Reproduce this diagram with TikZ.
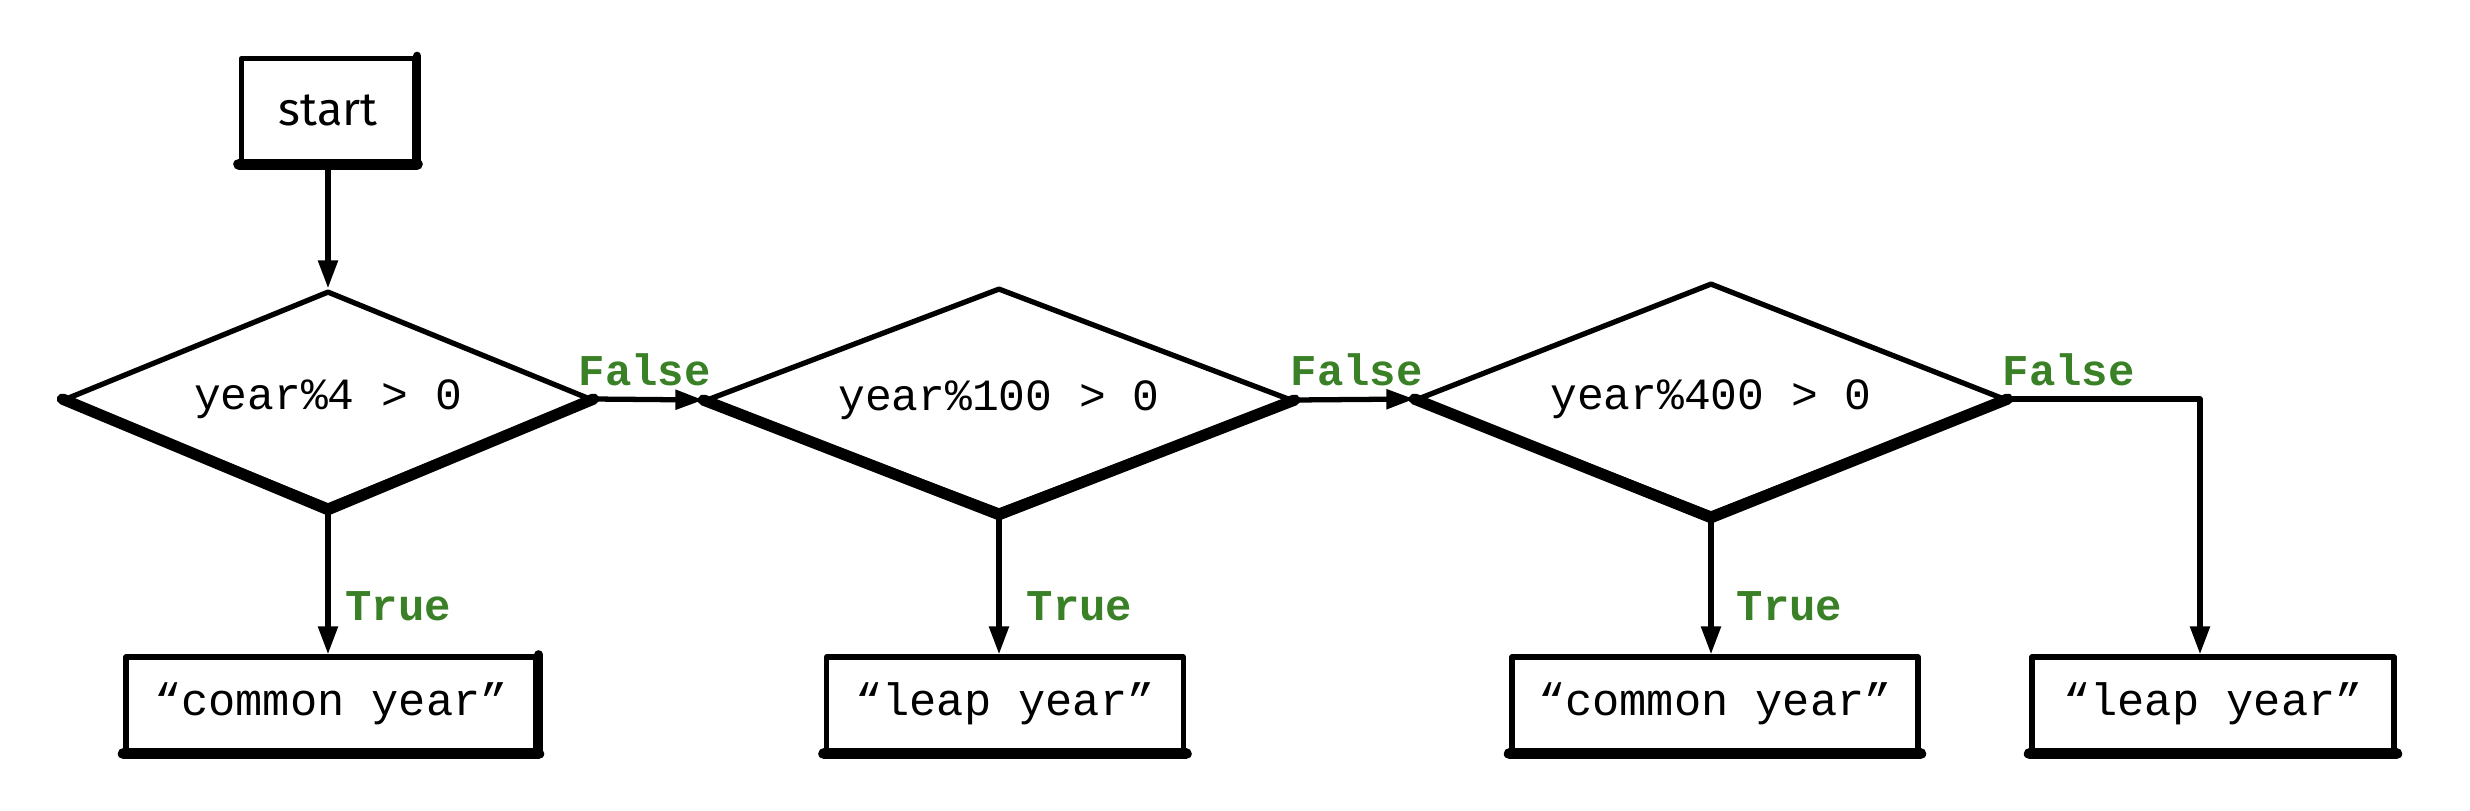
\documentclass[tikz,border=0pt]{standalone}
\usepackage{fontspec}
\setmainfont{Fira Sans}
\setmonofont{Liberation Mono}
\usetikzlibrary{shapes.geometric,arrows.meta}
\definecolor{branchgreen}{RGB}{58,128,38}

\begin{document}
\begin{tikzpicture}[every path/.style={line width=1.5pt, line join=round, line cap=round},
		>={Triangle[length=.28cm,width=.19cm]},
		cond/.style={diamond, draw, aspect=2.6, inner sep=0pt, font=\ttfamily\fontsize{12.7}{15}\selectfont},
		outbox/.style={rectangle, draw, minimum height=.94cm, font=\ttfamily\fontsize{12.9}{15}\selectfont},
		branch/.style={right, inner sep=0pt, text=branchgreen, font=\ttfamily\bfseries\fontsize{12.5}{15}\selectfont},
		heavy/.style={line width=3.2pt}, medium/.style={line width=2.4pt}]
					\useasboundingbox (0,0) rectangle (24.7,8.1);
					% start and the three tests
					\node[draw, minimum width=1.73cm, minimum height=1.03cm, font=\fontsize{13.3}{16}\selectfont] (start) at (3.28,7.00) {start};
					\node[cond, minimum width=5.26cm, minimum height=2.16cm] (mod4) at (3.28,4.11) {year\%4 > 0};
					\node[cond, minimum width=5.86cm, minimum height=2.24cm] (mod100) at (9.99,4.10) {year\%100 > 0};
					\node[cond, minimum width=5.88cm, minimum height=2.32cm] (mod400) at (17.11,4.11) {year\%400 > 0};
					\draw[heavy] (mod4.west) -- (mod4.south) -- (mod4.east);
					\draw[heavy] (mod100.west) -- (mod100.south) -- (mod100.east);
					\draw[heavy] (mod400.west) -- (mod400.south) -- (mod400.east);
					% results
					\node[outbox, minimum width=4.10cm] (common1) at (3.31,1.06) {“common year”};
					\node[outbox, minimum width=3.57cm] (leap1) at (10.05,1.06) {“leap year”};
					\node[outbox, minimum width=4.06cm] (common2) at (17.15,1.06) {“common year”};
					\node[outbox, minimum width=3.62cm] (leap2) at (22.13,1.06) {“leap year”};
					\draw[medium] (start.north east) -- (start.south east);
					\draw[medium] (common1.north east) -- (common1.south east);
					\draw[heavy] (start.south west) -- (start.south east);
					\draw[heavy] (common1.south west) -- (common1.south east);
					\draw[heavy] (leap1.south west) -- (leap1.south east);
					\draw[heavy] (common2.south west) -- (common2.south east);
					\draw[heavy] (leap2.south west) -- (leap2.south east);
					% connectors
					\coordinate (bend) at (22.00,4.11);
					\draw[->] (start.south) -- (mod4.north);
					\draw[->] (mod4.east) -- (mod100.west);
					\draw[->] (mod100.east) -- (mod400.west);
					\draw[->] (mod400.east) -- (bend) -- (bend |- leap2.north);
					\draw[->] (mod4.south) -- (mod4.south |- common1.north);
					\draw[->] (mod100.south) -- (mod100.south |- leap1.north);
					\draw[->] (mod400.south) -- (mod400.south |- common2.north);
					\node[branch] (false1) at (5.76,4.40) {False};
					\node[branch] (false2) at (12.88,4.40) {False};
					\node[branch] (false3) at (20.00,4.40) {False};
					\node[branch] (true1) at (3.43,2.04) {True};
					\node[branch] (true2) at (10.24,2.04) {True};
					\node[branch] (true3) at (17.34,2.04) {True};
				\end{tikzpicture}
\end{document}
